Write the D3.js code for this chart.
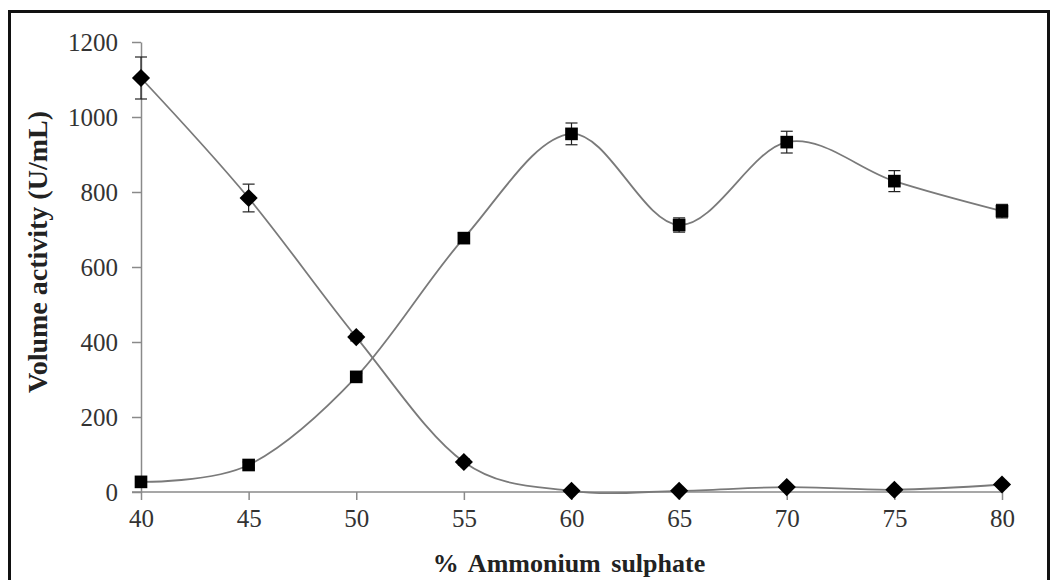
<!DOCTYPE html>
<html>
<head>
<meta charset="utf-8">
<script src="https://cdn.jsdelivr.net/npm/d3@7"></script>
<style>
  html, body { margin: 0; padding: 0; background: #fff; }
  svg { display: block; }
  text { font-family: "Liberation Serif", "Times New Roman", serif; }
</style>
</head>
<body>
<svg id="chart" width="1052" height="580"></svg>
<script>
// Ammonium sulphate saturation (%)
const saturation = [40, 45, 50, 55, 60, 65, 70, 75, 80];

// Volume activity (U/mL) in the supernatant (diamonds) and the precipitate (squares)
const supernatant = [1104, 784, 413, 80, 3, 3, 13, 6, 20];
const supernatantErr = [56, 37, 10, 8, 2, 2, 4, 2, 4];
const precipitate = [27, 72, 307, 677, 955, 712, 933, 829, 749];
const precipitateErr = [6, 8, 10, 14, 29, 19, 29, 28, 18];

const yTicks = [0, 200, 400, 600, 800, 1000, 1200];
const xTicks = [40, 45, 50, 55, 60, 65, 70, 75, 80];

const svg = d3.select("#chart");
const margin = { left: 141, right: 50, top: 42, bottom: 88 };
const W = 1052, H = 580;

const x = d3.scaleLinear().domain([40, 80]).range([margin.left, W - margin.right]);
const y = d3.scaleLinear().domain([0, 1200]).range([H - margin.bottom, margin.top]);

// outer frame
svg.append("rect")
  .attr("x", 9.5).attr("y", 11.5)
  .attr("width", 1039).attr("height", 580)
  .attr("fill", "none").attr("stroke", "#111").attr("stroke-width", 3);

const serif = "Liberation Serif";

// y axis
const yAxis = svg.append("g")
  .attr("transform", `translate(${x(40)},0)`)
  .call(d3.axisLeft(y).tickValues(yTicks).tickFormat(d3.format("d"))
    .tickSize(9).tickSizeOuter(0).tickPadding(14));
// x axis
const xAxis = svg.append("g")
  .attr("transform", `translate(0,${y(0)})`)
  .call(d3.axisBottom(x).tickValues(xTicks).tickFormat(d3.format("d"))
    .tickSize(8).tickSizeOuter(0).tickPadding(9));

[yAxis, xAxis].forEach(g => {
  g.attr("font-family", serif).attr("font-size", 25);
  g.select(".domain").attr("stroke", "#8a8a8a").attr("stroke-width", 1.5);
  g.selectAll(".tick line").attr("stroke", "#8a8a8a").attr("stroke-width", 1.5);
  g.selectAll(".tick text").attr("fill", "#333");
});
// extend x axis baseline to meet the zero tick on the left
xAxis.select(".domain").attr("d", `M${x(40) - 9},0H${x(80)}`);

// axis titles
svg.append("text")
  .attr("x", 569).attr("y", 572)
  .attr("text-anchor", "middle")
  .attr("fill", "#222")
  .attr("font-family", serif)
  .attr("font-weight", "bold")
  .attr("font-size", 26)
  .attr("word-spacing", 4)
  .text("% Ammonium sulphate");

svg.append("text")
  .attr("transform", "translate(47,252) rotate(-90)")
  .attr("text-anchor", "middle")
  .attr("fill", "#222")
  .attr("font-family", serif)
  .attr("font-weight", "bold")
  .attr("font-size", 28)
  .text("Volume activity (U/mL)");

const line = d3.line()
  .x((d, i) => x(saturation[i]))
  .y(d => y(d))
  .curve(d3.curveCatmullRom.alpha(0));

function drawSeries(values, errs, symbolType, size) {
  const g = svg.append("g");
  g.append("path")
    .datum(values)
    .attr("d", line)
    .attr("fill", "none")
    .attr("stroke", "#7a7a7a")
    .attr("stroke-width", 1.8);

  const eb = g.selectAll(".err").data(values).join("g");
  eb.append("line")
    .attr("x1", (d, i) => x(saturation[i])).attr("x2", (d, i) => x(saturation[i]))
    .attr("y1", (d, i) => y(d + errs[i])).attr("y2", (d, i) => y(d - errs[i]))
    .attr("stroke", "#222").attr("stroke-width", 1.2);
  [1, -1].forEach(s => {
    eb.append("line")
      .attr("x1", (d, i) => x(saturation[i]) - 6).attr("x2", (d, i) => x(saturation[i]) + 6)
      .attr("y1", (d, i) => y(d + s * errs[i])).attr("y2", (d, i) => y(d + s * errs[i]))
      .attr("stroke", "#222").attr("stroke-width", 1.2);
  });

  g.selectAll(".pt").data(values).join("path")
    .attr("transform", (d, i) => `translate(${x(saturation[i])},${y(d)})` + (symbolType === "diamond" ? " rotate(45)" : ""))
    .attr("d", d3.symbol().type(d3.symbolSquare).size(size))
    .attr("fill", "#000");
}

drawSeries(precipitate, precipitateErr, "square", 160);
drawSeries(supernatant, supernatantErr, "diamond", 165);
</script>
</body>
</html>
